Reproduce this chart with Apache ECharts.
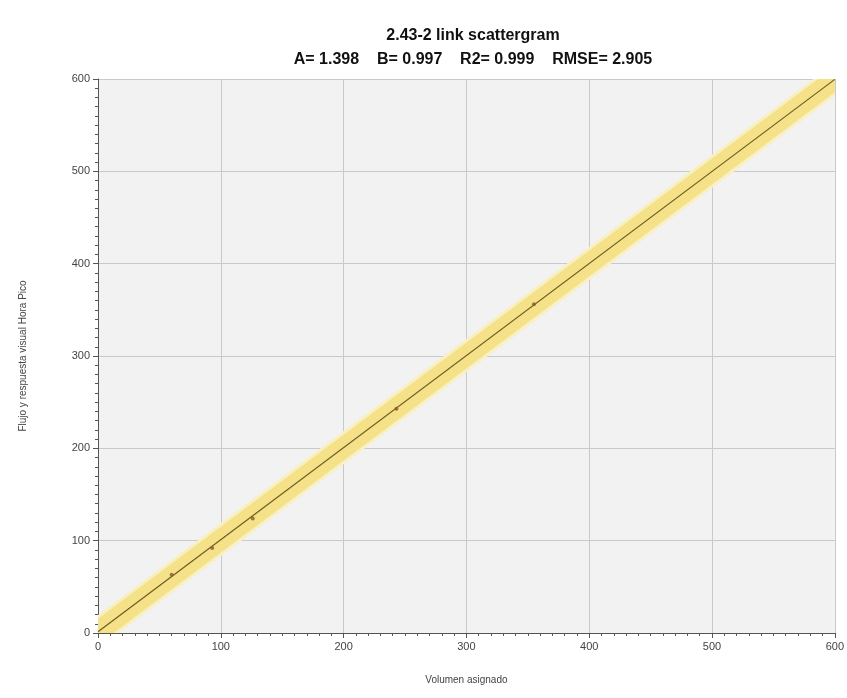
<!DOCTYPE html>
<html>
<head>
<meta charset="utf-8">
<script src="https://cdn.jsdelivr.net/npm/echarts@6/dist/echarts.min.js"></script>
<style>
  html, body { margin: 0; padding: 0; background: #ffffff; }
  #chart { width: 847px; height: 698px; }
</style>
</head>
<body>
<div id="chart"></div>
<script>
// Regression statistics shown in the subtitle
const coefA = 1.398;
const coefB = 0.997;
const r2 = 0.999;
const rmse = 2.905;

// Observed link counts: assigned volume vs. observed flow
const assignedVolume = [60, 93, 126, 243, 355];
const observedFlow = [63, 92, 124, 243, 356];

// Fitted line end points and confidence band half-widths
const fitX = [0, 600];
const bandInner = 14;
const bandOuter = 18;

const axisTicks = [0, 100, 200, 300, 400, 500, 600];

const fitY = fitX.map(x => coefA + coefB * x);
const points = assignedVolume.map((x, i) => [x, observedFlow[i]]);
// one strip item: [x0, x1, y0, y1, halfWidth]
const strip = w => [[fitX[0], fitX[1], fitY[0], fitY[1], w]];

function renderStrip(color) {
  return function (params, api) {
    const x0 = api.value(0), x1 = api.value(1);
    const y0 = api.value(2), y1 = api.value(3), w = api.value(4);
    const pts = [
      api.coord([x0, y0 - w]),
      api.coord([x1, y1 - w]),
      api.coord([x1, y1 + w]),
      api.coord([x0, y0 + w])
    ];
    return { type: 'polygon', shape: { points: pts }, style: { fill: color } };
  };
}

const chart = echarts.init(document.getElementById('chart'), null, { renderer: 'canvas' });

const axisCommon = {
  type: 'value',
  min: axisTicks[0],
  max: axisTicks[axisTicks.length - 1],
  interval: 100,
  minorTick: { show: true, splitNumber: 10, length: 3, lineStyle: { color: '#555' } },
  axisLine: { show: true, lineStyle: { color: '#555', width: 1 } },
  axisTick: { show: true, length: 5, lineStyle: { color: '#555' } },
  axisLabel: { color: '#444', fontSize: 11, fontFamily: 'Liberation Sans' },
  splitLine: { show: true, lineStyle: { color: '#c9c9c9', width: 1 } },
  nameLocation: 'middle',
  nameTextStyle: { color: '#444', fontSize: 10, fontFamily: 'Liberation Sans' }
};

chart.setOption({
  animation: false,
  backgroundColor: '#ffffff',
  title: {
    text: '2.43-2 link scattergram',
    subtext: 'A= ' + coefA.toFixed(3) + '    B= ' + coefB.toFixed(3) + '    R2= ' + r2.toFixed(3) + '    RMSE= ' + rmse.toFixed(3),
    left: 468,
    textAlign: 'center',
    top: 23,
    itemGap: 8,
    textStyle: { fontSize: 16, fontWeight: 'bold', color: '#111', fontFamily: 'Liberation Sans' },
    subtextStyle: { fontSize: 16, fontWeight: 'bold', color: '#111', fontFamily: 'Liberation Sans' }
  },
  grid: { left: 98, right: 9, top: 79, bottom: 65, show: true, backgroundColor: '#f2f2f2', borderWidth: 0 },
  xAxis: Object.assign({}, axisCommon, { name: 'Volumen asignado', nameGap: 42 }),
  yAxis: Object.assign({}, axisCommon, { name: 'Flujo y respuesta visual Hora Pico', nameGap: 70 }),
  series: [
    { type: 'custom', data: strip(bandOuter), renderItem: renderStrip('#f8f0c2'), clip: true, silent: true, z: 1 },
    { type: 'custom', data: strip(bandInner), renderItem: renderStrip('#f4e188'), clip: true, silent: true, z: 2 },
    { type: 'line', data: fitX.map((x, i) => [x, fitY[i]]), symbol: 'none',
      lineStyle: { color: '#6e5a22', width: 1.2 }, silent: true, z: 3 },
    { type: 'scatter', data: points, symbol: 'circle', symbolSize: 4,
      itemStyle: { color: '#8a5a2a' }, z: 4 }
  ]
});
</script>
</body>
</html>
